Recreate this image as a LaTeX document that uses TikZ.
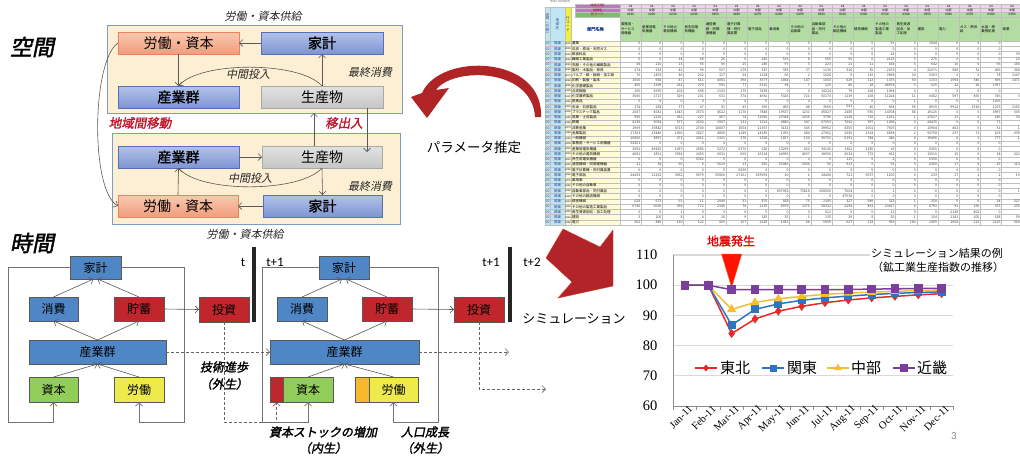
\documentclass[tikz,border=0pt]{standalone}
\usepackage{fontspec}
\newfontfamily\jp{Noto Sans CJK JP}
\newfontfamily\jpsl{Noto Sans CJK JP}[FakeSlant=0.2]
\newfontfamily\jpbs{Noto Sans CJK JP}[FakeSlant=0.2,FakeBold=2]
\newfontfamily\jpb{Noto Sans CJK JP}[FakeBold=1.5]
\newfontfamily\tnr{Liberation Serif}
\newfontfamily\calf{Carlito}
\usetikzlibrary{arrows.meta,calc,plotmarks}
\definecolor{yelbg}{HTML}{FCEFD3}
\definecolor{yelbd}{HTML}{7F9CC6}
\definecolor{lk1}{HTML}{F9C9B2}
\definecolor{lk2}{HTML}{F19C7C}
\definecolor{lkb}{HTML}{E8845E}
\definecolor{hh1}{HTML}{B3C2EA}
\definecolor{hh2}{HTML}{7F95D2}
\definecolor{hhb}{HTML}{5470B6}
\definecolor{pr1}{HTML}{E2E2E2}
\definecolor{pr2}{HTML}{C6C6C6}
\definecolor{prb}{HTML}{A9A9A9}
\definecolor{arrg}{HTML}{595959}
\definecolor{lblred}{HTML}{C0182A}
\definecolor{tblue}{HTML}{4F87C6}
\definecolor{tred}{HTML}{C0262B}
\definecolor{tgreen}{HTML}{92CC59}
\definecolor{tyellow}{HTML}{EFEA4C}
\definecolor{torange}{HTML}{F6B82D}
\definecolor{arcred}{HTML}{B02426}
\definecolor{bigred}{HTML}{B3232A}
\definecolor{cyanc}{HTML}{BFE6F2}
\definecolor{ycol}{HTML}{F3EE3A}
\definecolor{lyel}{HTML}{FFFBD6}
\definecolor{pinkc}{HTML}{F1D2EC}
\definecolor{purpc}{HTML}{BA7ABB}
\definecolor{greenc}{HTML}{B3DCA3}
\definecolor{dgreenc}{HTML}{7DBE6B}
\definecolor{txtblue}{HTML}{2746A0}
\definecolor{cTH}{HTML}{E8292A}
\definecolor{cKT}{HTML}{2F74BF}
\definecolor{cCB}{HTML}{F6BD32}
\definecolor{cKK}{HTML}{7A3F9C}
\definecolor{gridc}{HTML}{D9D9D9}
\newcommand\tabrow[4]{%
  \pgfmathsetmacro\ry{43.63+#1*5.26}%
  \node[tc,text=txtblue] at (547.5,\ry) {00};
  \node[tc,text=txtblue] at (557.5,\ry) {関東};
  \node[tc,font=\jp\fontsize{2.4}{2.4}\selectfont] at (568,\ry) {#2};
  \node[tc,anchor=west] at (572,\ry) {#3};
  \foreach \vv [count=\ci] in {#4} {\node[tc,anchor=east,text=black!75] at ({619+\ci*21.2},\ry) {\vv};}
}
\begin{document}
\begin{tikzpicture}[x=1pt,y=-1pt,
  every node/.style={inner sep=0pt,outer sep=0pt},
  arr/.style={draw=arrg,line width=0.6pt,-{Straight Barb[length=3.5pt,width=7pt]}},
  darr/.style={draw=black!60,line width=0.7pt,dash pattern=on 3pt off 2pt,-{Straight Barb[length=3.5pt,width=7pt]}},
  fline/.style={draw=black!55,line width=0.8pt},
  frame/.style={draw=yelbd,line width=1pt,fill=yelbg},
  topbox/.style={draw,line width=0.9pt,minimum height=22pt,font=\jp\fontsize{14}{14}\selectfont},
  lkbox/.style={topbox,top color=lk1,bottom color=lk2,draw=lkb,minimum width=121pt},
  hhbox/.style={topbox,top color=hh1,bottom color=hh2,draw=hhb,minimum width=122pt,font=\jpb\fontsize{14}{14}\selectfont},
  prbox/.style={topbox,top color=pr1,bottom color=pr2,draw=prb,minimum width=122pt},
  tbox/.style={draw=black!65,line width=0.6pt,minimum height=24pt,font=\jp\fontsize{12}{12}\selectfont},
  bbox/.style={tbox,fill=tblue},
  rbox/.style={tbox,fill=tred},
  gbox/.style={tbox,fill=tgreen},
  ybox/.style={tbox,fill=tyellow},
  itl/.style={font=\jpsl\fontsize{11}{11}\selectfont,text=black!85},
  redlab/.style={font=\jpbs\fontsize{12.5}{12.5}\selectfont,text=lblred},
  bi/.style={font=\jpbs\fontsize{12}{12}\selectfont},
  title/.style={font=\jpbs\fontsize{22}{22}\selectfont},
  tl/.style={font=\calf\fontsize{13}{13}\selectfont},
  tc/.style={font=\jp\fontsize{3.5}{3.5}\selectfont},
  tline/.style={draw=black!25,line width=0.25pt},
  grid/.style={draw=gridc,line width=1.1pt},
  axis/.style={draw=black!45,line width=0.8pt}]
\useasboundingbox (0,0) rectangle (1020,456);
\fill[white] (0,0) rectangle (1020,456);

% ================= space panel =================
\node[title] (kukan) at (32,47) {空間};
\node[itl] (sup1) at (263,16) {労働・資本供給};
\node[frame,minimum width=295pt,minimum height=88pt] (FRu) at (254.5,69) {};
\node[frame,minimum width=288pt,minimum height=91pt] (FRl) at (256,178.5) {};
\node[lkbox] (LKu) at (178.5,43) {労働・資本};
\node[hhbox] (HHu) at (322,43) {家計};
\node[hhbox,minimum width=121pt] (INu) at (178.5,97) {産業群};
\node[prbox] (PRu) at (322,97) {生産物};
\node[hhbox,minimum width=121pt] (INl) at (178.5,157) {産業群};
\node[prbox,minimum width=120pt] (PRl) at (322,157) {生産物};
\node[lkbox,minimum width=120pt] (LKl) at (178,206) {労働・資本};
\node[hhbox,minimum width=119pt] (HHl) at (322.5,206) {家計};
\node[itl] (mid1) at (248,74) {中間投入};
\node[itl] (fin1) at (370,72) {最終消費};
\node[itl] (mid2) at (250,178) {中間投入};
\node[itl] (fin2) at (370,186) {最終消費};
\node[itl] (sup2) at (245,234) {労働・資本供給};
\node[redlab] (mig) at (140,123) {地域間移動};
\node[redlab] (trd) at (344,123) {移出入};
\draw[arr] (HHu.west) -- (LKu.east);
\draw[arr] (LKu.south) -- (INu.north);
\draw[arr] (PRu.north) -- (HHu.south);
\draw[arr] (PRu.north) .. controls (300,61) and (200,61) .. (INu.north);
\draw[arr] (INl.east) -- (PRl.west);
\draw[arr] (LKl.north) -- (INl.south);
\draw[arr] (PRl.south) -- (HHl.north);
\draw[arr] (PRl.south) .. controls (300,193) and (200,193) .. (INl.south);
\draw[arr] (HHl.west) -- (LKl.east);
\draw[arr] (LKu.west) .. controls (92,60) and (90,190) .. (LKl.west);
\coordinate (m1) at (314,113);
\coordinate (m2) at (367,152);
\draw[arr] (PRl.north -| m1) -- (m1);
\draw[arr] (PRu.south -| m2) -- (m2);

% parameter estimation arc
\fill[arcred] (541,117) .. controls (544,55) and (440,52) .. (422,93) -- (411,97) -- (427,118) -- (449,88) -- (436,90) .. controls (452,67) and (532,67) .. (535,117) -- cycle;
\node[font=\jp\fontsize{13.5}{13.5}\selectfont] (pe) at (474,147) {パラメータ推定};

% ================= time panel =================
\node[title] (jikan) at (32,243) {時間};
\node[bbox,minimum width=51pt,minimum height=23pt] (HH1) at (95.5,267.5) {家計};
\node[bbox,minimum width=49pt] (CS1) at (53.5,309) {消費};
\node[rbox,minimum width=50pt] (SV1) at (139,309) {貯蓄};
\node[rbox,minimum width=50pt,minimum height=25pt] (IV1) at (224,309.5) {投資};
\node[bbox,minimum width=137pt] (IN1) at (97.5,352) {産業群};
\node[gbox,minimum width=49pt,minimum height=25pt] (K1) at (53.5,389.5) {資本};
\node[ybox,minimum width=50pt,minimum height=25pt] (L1) at (139,389.5) {労働};
\fill[black!85] (252,247) rectangle (256,322);
\node[tl] (t0) at (243,262) {t};
\node[tl] (t1) at (275,262) {t+1};

\node[bbox,minimum width=50pt,minimum height=23pt] (HH2) at (344,267.5) {家計};
\node[bbox,minimum width=50pt] (CS2) at (302,309) {消費};
\node[rbox,minimum width=50pt] (SV2) at (387,309) {貯蓄};
\node[rbox,minimum width=50pt,minimum height=25pt] (IV2) at (479,309.5) {投資};
\node[bbox,minimum width=149pt] (IN2) at (344.5,352) {産業群};
\node[rbox,minimum width=13pt,minimum height=25pt] (RK2) at (276.5,389.5) {};
\node[gbox,minimum width=50pt,minimum height=25pt] (K2) at (308,389.5) {資本};
\node[tbox,fill=torange,minimum width=14pt,minimum height=25pt] (OL2) at (362,389.5) {};
\node[ybox,minimum width=49pt,minimum height=25pt] (L2) at (393.5,389.5) {労働};
\fill[black!85] (508,247) rectangle (512,322);
\node[tl] (t2) at (491,262) {t+1};
\node[tl] (t3) at (532,262) {t+2};

% frames (household -> capital / labour)
\draw[fline,-{Straight Barb[length=3.5pt,width=7pt]}] (HH1.west) -- (8,267.5) -- (8,422) -- (53.5,422) -- (K1.south);
\draw[fline,-{Straight Barb[length=3.5pt,width=7pt]}] (HH1.east) -- (184,267.5) -- (184,422) -- (139,422) -- (L1.south);
\draw[fline,-{Straight Barb[length=3.5pt,width=7pt]}] (HH2.west) -- (262.5,267.5) -- (262.5,422) -- (308,422) -- (K2.south);
\draw[fline,-{Straight Barb[length=3.5pt,width=7pt]}] (HH2.east) -- (438.5,267.5) -- (438.5,422) -- (393.5,422) -- (L2.south);

\draw[arr] (CS1.north) -- ($(HH1.south)+(-2,0)$);
\draw[arr] (SV1.north) -- ($(HH1.south)+(2,0)$);
\draw[arr] (IN1.north) -- (CS1.south);
\draw[arr] (IN1.north) -- (SV1.south);
\draw[arr] (K1.north) -- (IN1.south);
\draw[arr] (L1.north) -- (IN1.south);
\draw[arr] (SV1.east) -- (IV1.west);
\draw[arr] (CS2.north) -- ($(HH2.south)+(-2,0)$);
\draw[arr] (SV2.north) -- ($(HH2.south)+(2,0)$);
\draw[arr] (IN2.north) -- (CS2.south);
\draw[arr] (IN2.north) -- (SV2.south);
\draw[arr] (K2.north) -- (IN2.south);
\draw[arr] (L2.north) -- (IN2.south);
\draw[arr] (SV2.east) -- (IV2.west);
\draw[darr] (IN1.east) -- (IN2.west);
\draw[darr] (IV1.south) -- (224,422) -- (276.5,422) -- (RK2.south);
\coordinate (e1) at (509,352);
\coordinate (e2) at (546,389);
\draw[darr] (IN2.east) -- (e1);
\draw[darr] (IV2.south) -- (479,389) -- (e2);

\node[bi] (tp1) at (224,367) {技術進歩};
\node[bi] (tp2) at (224,384) {（外生）};
\node[bi] (ks1) at (323,432) {資本ストックの増加};
\node[bi] (ks2) at (323,448) {（内生）};
\node[bi] (pg1) at (425,432) {人口成長};
\node[bi] (pg2) at (425,448) {（外生）};

% simulation arrow
\filldraw[fill=bigred,draw=bigred!70!orange,line width=0.4pt] (563,229) -- (600,247) -- (613,230) -- (613,286) -- (558,298) -- (572,282) -- (546,258) -- cycle;
\node[font=\jp\fontsize{13}{13}\selectfont] (sim) at (574,319) {シミュレーション};

% ================= spreadsheet =================
\begin{scope}
\clip (540,0) rectangle (1020,230);
\fill[cyanc] (545,7) rectangle (565,225.1);
\fill[ycol] (565,7) rectangle (571,41);
\fill[lyel] (565,41) rectangle (620,225.1);
\fill[white] (571,17) rectangle (620,41);
\fill[purpc] (575,4) rectangle (620,12);
\fill[dgreenc] (575,12) rectangle (620,17);
\fill[pinkc] (620,4) rectangle (1020,12);
\fill[greenc] (620,12) rectangle (1020,41);
\foreach \k in {0,...,19} \draw[tline] (620+\k*21.2,4) -- (620+\k*21.2,225.1);
\foreach \r in {0,...,35} \draw[tline] (545,41+\r*5.26) -- (1020,41+\r*5.26);
\foreach \yy in {4,8,12,17} \draw[tline] (575,\yy) -- (1020,\yy);
\foreach \xx in {545,550,565,571} \draw[tline] (\xx,7) -- (\xx,225.1);
\draw[tline] (545,7) -- (575,7);
\draw[tline] (575,4) -- (575,17);
\node[tc,text=black!50,font=\jp\fontsize{3}{3}\selectfont] (ttl) at (560,1.8) {地域2 地域間表};
\node[tc,align=center,text=txtblue,font=\jp\fontsize{3.6}{3.8}\selectfont] (hA) at (547.5,24) {地\\域\\︵\\行\\側\\︶};
\node[tc,align=center,text=txtblue,font=\jp\fontsize{3.6}{3.8}\selectfont] (hB) at (557.5,24) {地\\域\\名};
\node[tc,align=center,text=txtblue,font=\jp\fontsize{3.6}{3.8}\selectfont] (hC) at (568,24) {行\\コ\\ー\\ド};
\node[tc,text=txtblue,font=\jpb\fontsize{4.2}{4.2}\selectfont] (hD) at (595.5,29) {部門名称};
\node[tc,text=red!60!black,font=\jp\fontsize{3}{3}\selectfont] (hE) at (597.5,6) {地域(列側)};
\node[tc,text=red!60!black,font=\jp\fontsize{3}{3}\selectfont] (hF) at (597.5,10) {地域名};
\node[tc,text=red!70!black,font=\jp\fontsize{3.2}{3.2}\selectfont] (hG) at (597.5,14.5) {列コード};
\foreach \h [count=\ci] in {{事務用・\\サービス\\用機器},{産業用電\\気機器},{その他の\\電気機械},{民生用電\\気機器},{通信機\\械・同関\\連機器},{電子計算\\機・同付\\属装置},{電子部品},{乗用車},{その他の\\自動車},{自動車部\\品・同付\\属品},{その他の\\輸送機械},{精密機械},{その他の\\製造工業\\製品},{再生資源\\回収・加\\工処理},{建設},{電力},{ガス・熱供\\給},{水道・廃\\棄物処理},{商業}} {
  \node[tc,anchor=west,align=left,font=\jp\fontsize{3.4}{4.4}\selectfont] at ({620+(\ci-1)*21.2+1},29) {\h};
  \node[tc,font=\jp\fontsize{3}{3}\selectfont] at ({620+(\ci-0.5)*21.2},6) {04};
  \node[tc,font=\jp\fontsize{3}{3}\selectfont] at ({620+(\ci-0.5)*21.2},10) {中部};
  \pgfmathtruncatemacro\cd{200+\ci*10}
  \node[tc,font=\jp\fontsize{3.2}{3.2}\selectfont] at ({620+(\ci-0.5)*21.2},14.5) {0\cd};
}
\tabrow{0}{0010}{農業}{0,0,0,0,0,0,0,0,0,0,0,0,51,0,1844,0,0,0,0}
\tabrow{1}{0020}{石炭・原油・天然ガス}{0,0,0,0,0,0,0,0,0,0,0,0,0,0,0,0,0,0,0}
\tabrow{2}{0030}{飲食料品}{0,0,0,0,0,0,0,0,0,0,0,0,14,0,0,0,0,0,398}
\tabrow{3}{0040}{繊維工業製品}{0,0,14,68,26,0,282,533,8,605,50,6,2115,0,276,0,0,0,232}
\tabrow{4}{0050}{衣服・その他の繊維製品}{44,215,13,56,66,25,280,97,3,223,21,11,164,5,642,16,6,56,1658}
\tabrow{5}{0060}{製材・木製品・家具}{274,233,42,99,557,279,587,335,37,1136,316,35,2253,4,21071,588,31,466,3683}
\tabrow{6}{0070}{パルプ・紙・板紙・加工紙}{70,1853,86,232,327,24,1128,66,2,1628,9,119,2698,24,5363,0,0,78,11473}
\tabrow{7}{0080}{印刷・製版・製本}{1606,668,87,611,4081,394,3677,1864,147,1043,629,123,1376,50,1153,1594,346,696,14713}
\tabrow{8}{0090}{化学基礎製品}{405,1299,232,270,591,77,5115,94,7,125,86,28,48974,3,625,12,26,1057,0}
\tabrow{9}{0100}{合成樹脂}{105,2935,202,698,1103,175,7439,0,0,14224,79,228,1094,0,0,0,0,0,0}
\tabrow{10}{0110}{化学最終製品}{3606,1717,329,231,631,374,4692,5326,721,60170,1139,108,11224,11,6462,597,465,746,38}
\tabrow{11}{0120}{医薬品}{0,0,0,0,0,0,0,0,0,0,0,0,0,1,0,0,0,1006,0}
\tabrow{12}{0130}{石油・石炭製品}{174,258,37,27,91,43,360,465,48,3669,541,46,694,96,8919,9912,1518,1276,11553}
\tabrow{13}{0140}{プラスチック製品}{2687,4681,1643,1573,4622,1176,7848,19537,1231,45827,2485,935,14708,88,19125,0,0,3997,5050}
\tabrow{14}{0150}{窯業・土石製品}{960,1215,431,227,457,74,11596,25348,1436,3796,2138,732,1251,1,27817,13,2,146,309}
\tabrow{15}{0160}{鉄鋼}{4139,9054,577,1502,1957,131,1212,4840,347,67593,7642,397,1094,0,24476,0,0,73,0}
\tabrow{16}{0170}{非鉄金属}{1969,19842,4713,2740,10807,1554,21367,3132,345,39952,4355,1001,7605,0,13964,402,0,31,13}
\tabrow{17}{0180}{金属製品}{17303,13446,1066,1827,4858,1149,14185,1095,484,27062,2045,1214,6694,2,92758,237,71,103,6397}
\tabrow{18}{0190}{一般機械}{10806,8857,271,2011,1301,378,2308,1837,134,39701,6191,784,346,0,19496,0,3,777,14}
\tabrow{19}{0200}{事務用・サービス用機器}{54301,0,0,0,0,0,0,0,0,0,0,0,0,0,0,0,0,0,0}
\tabrow{20}{0210}{産業用電気機器}{3092,49832,1437,2986,5272,6370,628,13255,822,34136,1362,1185,16,0,5065,0,0,0,0}
\tabrow{21}{0220}{その他の電気機械}{4681,3851,7654,1455,6831,609,25124,64956,4657,19656,2634,772,662,0,13015,15,0,38,2225}
\tabrow{22}{0230}{民生用電気機器}{0,0,0,5362,0,0,0,0,0,0,115,0,2,0,5356,0,0,0,0}
\tabrow{23}{0240}{通信機械・同関連機器}{11,34,60,6,5619,13,366,53046,5006,56,913,5,92,3,4360,17,4,29,1139}
\tabrow{24}{0250}{電子計算機・同付属装置}{0,0,0,0,5,5830,0,0,0,0,0,0,0,0,0,0,0,0,0}
\tabrow{25}{0260}{電子部品}{24433,11262,3062,6579,55860,27161,155993,10,1,24408,721,6537,1105,0,233,17,1,2,195}
\tabrow{26}{0270}{乗用車}{0,0,0,0,0,0,0,0,0,0,0,0,0,0,0,0,0,0,0}
\tabrow{27}{0280}{その他の自動車}{0,0,0,0,0,0,0,0,0,0,0,0,0,0,0,0,0,0,0}
\tabrow{28}{0290}{自動車部品・同付属品}{0,0,0,0,0,0,0,897092,75818,608506,7604,0,1,0,6,0,0,0,11}
\tabrow{29}{0300}{その他の輸送機械}{0,0,0,0,0,0,0,0,0,0,47538,0,0,0,0,0,0,0,0}
\tabrow{30}{0310}{精密機械}{628,672,61,11,2040,31,875,858,75,2185,327,949,323,1,258,0,0,24,5273}
\tabrow{31}{0320}{その他の製造工業製品}{6740,6050,369,772,2345,78,2135,8979,1371,58332,2258,491,23627,8,6791,91,156,375,2350}
\tabrow{32}{0330}{再生資源回収・加工処理}{0,0,1,0,0,0,5,0,0,611,0,0,11,0,0,2136,402,0,0}
\tabrow{33}{0340}{建設}{3,106,8,4,18,9,183,35,1,135,29,8,30,1,154,1181,205,188,599}
\tabrow{34}{0350}{電力}{262,846,130,122,405,157,2129,1433,68,5959,627,133,935,180,1405,1608,213,2116,6604}
\end{scope}

% ================= chart =================
\node[font=\jpb\fontsize{12}{12}\selectfont,text=red!90!black] (eq) at (731,241) {地震発生};
\begin{scope}[shift={(661.67,406)},x=23.33pt,y=3.02pt]
\foreach \g in {10,20,30,40,50} \draw[grid] (0.5,\g) -- (12.5,\g);
\draw[axis] (0.5,0) -- (12.5,0);
\draw[axis] (0.5,0) -- (0.5,50);
\foreach \k in {0,...,12} \draw[axis] (0.5+\k,0) -- ++(0,-1.3);
\foreach \v/\g in {110/50,100/40,90/30,80/20,70/10,60/0}
  \node[anchor=east,font=\tnr\fontsize{14.5}{14.5}\selectfont,xshift=-16pt] at (0.5,\g) {\v};
\foreach \m [count=\i] in {Jan-11,Feb-11,Mar-11,Apr-11,May-11,Jun-11,Jul-11,Aug-11,Sep-11,Oct-11,Nov-11,Dec-11}
  \node[rotate=45,anchor=east,font=\tnr\fontsize{10.5}{10.5}\selectfont,xshift=3pt,yshift=-5pt] at (\i,0) {\m};
\filldraw[fill=red!85!orange,draw=orange!70!red,line width=0.5pt] (2.57,50.3) -- (3.43,50.3) -- (3,39.3) -- cycle;
\draw[cTH,line width=1.5pt] plot[mark=diamond*,mark size=3.2pt,mark options={fill=cTH,draw=cTH}] coordinates {(1,40) (2,40) (3,24) (4,28.8) (5,31.4) (6,33) (7,34.2) (8,35.1) (9,35.8) (10,36.3) (11,36.8) (12,37.2)};
\draw[cKT,line width=1.5pt] plot[mark=square*,mark size=3.2pt,mark options={fill=cKT,draw=cKT}] coordinates {(1,40) (2,40) (3,26.8) (4,32) (5,33.8) (6,35) (7,35.8) (8,36.4) (9,36.9) (10,37.3) (11,37.6) (12,37.8)};
\draw[cCB,line width=1.5pt] plot[mark=triangle*,mark size=3.8pt,mark options={fill=cCB,draw=cCB}] coordinates {(1,40) (2,40) (3,32) (4,34.3) (5,35.5) (6,36.3) (7,37) (8,37.4) (9,37.7) (10,38) (11,38.2) (12,38.4)};
\draw[cKK,line width=1.5pt] plot[mark=square*,mark size=3.6pt,mark options={fill=cKK,draw=cKK}] coordinates {(1,40) (2,40) (3,38.5) (4,38.5) (5,38.5) (6,38.5) (7,38.5) (8,38.6) (9,38.7) (10,38.8) (11,38.9) (12,39)};
\end{scope}
\node[font=\jp\fontsize{11}{11}\selectfont,fill=white,inner sep=1.5pt] (ct1) at (937,253) {シミュレーション結果の例};
\node[font=\jp\fontsize{11}{11}\selectfont] (ct2) at (938,267) {（鉱工業生産指数の推移）};
% legend
\draw[cTH,line width=1.5pt] (695,368) -- (717,368);
\path plot[mark=diamond*,mark size=3.2pt,mark options={fill=cTH,draw=cTH}] coordinates {(706,368)};
\node[anchor=west,font=\jp\fontsize{15}{15}\selectfont] (lg1) at (720,368) {東北};
\draw[cKT,line width=1.5pt] (762,368) -- (784,368);
\path plot[mark=square*,mark size=3.2pt,mark options={fill=cKT,draw=cKT}] coordinates {(773,368)};
\node[anchor=west,font=\jp\fontsize{15}{15}\selectfont] (lg2) at (787,368) {関東};
\draw[cCB,line width=1.5pt] (827,368) -- (849,368);
\path plot[mark=triangle*,mark size=3.8pt,mark options={fill=cCB,draw=cCB}] coordinates {(838,368)};
\node[anchor=west,font=\jp\fontsize{15}{15}\selectfont] (lg3) at (851,368) {中部};
\draw[cKK,line width=1.5pt] (893,368) -- (915,368);
\path plot[mark=square*,mark size=3.6pt,mark options={fill=cKK,draw=cKK}] coordinates {(904,368)};
\node[anchor=west,font=\jp\fontsize{15}{15}\selectfont] (lg4) at (917,368) {近畿};
\node[font=\calf\fontsize{11}{11}\selectfont,text=black!45] (pgno) at (954,436) {3};
\end{tikzpicture}
\end{document}
